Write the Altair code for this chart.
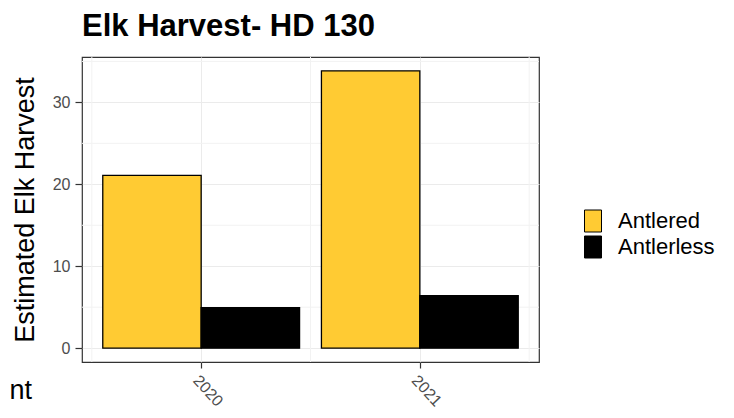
import altair as alt
import pandas as pd

# ---- data ----
years = [2020, 2021]
antlered = [21.1, 33.85]
antlerless = [4.95, 6.4]
types = ["Antlered", "Antlerless"]
colors = ["#FFCB33", "#000000"]
y_ticks = [0, 10, 20, 30]
y_minor = [5, 15, 25, 35]
x_minor = [2019.5, 2020.5, 2021.5]
stray_text = ["nt"]

rows = []
for i, yr in enumerate(years):
    rows.append({"year": yr, "type": types[0], "value": antlered[i], "idx": 0})
    rows.append({"year": yr, "type": types[1], "value": antlerless[i], "idx": 1})
df = pd.DataFrame(rows)

FONT = "Liberation Sans"
X_DOMAIN = [2019.455, 2021.545]
Y_DOMAIN = [-1.69, 35.54]

x_axis = alt.Axis(values=years, format="d", title=None, grid=True,
                  labelAngle=47, labelAlign="left", labelBaseline="top",
                  labelPadding=4, tickSize=6, labelFontSize=16)
y_axis = alt.Axis(values=y_ticks, title="Estimated Elk Harvest", grid=True,
                  tickSize=7, labelPadding=5, titleFontSize=27,
                  titleFontWeight="normal", titleColor="black",
                  titlePadding=13, titleFont=FONT)

xs = alt.Scale(domain=X_DOMAIN, nice=False, zero=False)
ys = alt.Scale(domain=Y_DOMAIN, nice=False, zero=False)

vgrid = alt.Chart(pd.DataFrame({"x": x_minor})).mark_rule(
    color="#F2F2F2", strokeWidth=1
).encode(x=alt.X("x:Q", scale=xs, axis=x_axis))

hgrid = alt.Chart(pd.DataFrame({"y": y_minor})).mark_rule(
    color="#F2F2F2", strokeWidth=1
).encode(y=alt.Y("y:Q", scale=ys, axis=y_axis))

bars = alt.Chart(df).transform_calculate(
    x0="datum.year - 0.45 + 0.45 * datum.idx",
    x1="datum.year + 0.45 * datum.idx",
).mark_bar(stroke="black", strokeWidth=1.3).encode(
    x=alt.X("x0:Q", scale=xs, axis=x_axis),
    x2="x1:Q",
    y=alt.Y("value:Q", scale=ys, axis=y_axis),
    y2=alt.datum(0),
    fill=alt.Fill(
        "type:N",
        scale=alt.Scale(domain=types, range=colors),
        legend=alt.Legend(
            title=None, orient="none", legendX=500, legendY=153,
            labelFontSize=22, labelFont=FONT, labelColor="black",
            symbolType="M-0.85,-1.1H0.85V1.1H-0.85Z", symbolSize=400,
            symbolStrokeColor="black", symbolStrokeWidth=1,
            symbolOpacity=1,
            rowPadding=0, labelOffset=14, padding=0,
        ),
    ),
)

txt = alt.Chart(pd.DataFrame({"t": stray_text})).mark_text(
    align="right", baseline="alphabetic", fontSize=27, font=FONT, color="black"
).encode(x=alt.value(-50), y=alt.value(342), text="t:N")

chart = alt.layer(vgrid, hgrid, bars, txt).properties(
    width=457,
    height=305,
    title=alt.TitleParams("Elk Harvest- HD 130", anchor="start", frame="group",
                          fontSize=31, fontWeight="bold", font=FONT,
                          color="black", offset=14),
    autosize=alt.AutoSizeParams(type="none"),
    padding={"left": 74, "top": 49, "right": 185, "bottom": 46},
).configure_view(
    stroke="#333333", strokeWidth=1.2
).configure_axis(
    gridColor="#EBEBEB", gridWidth=1, domain=False, tickColor="#333333",
    tickWidth=1.2, labelColor="#4D4D4D", labelFontSize=16, labelFont=FONT,
)

chart.save("out.html", embed_options={"renderer": "svg", "actions": False})
